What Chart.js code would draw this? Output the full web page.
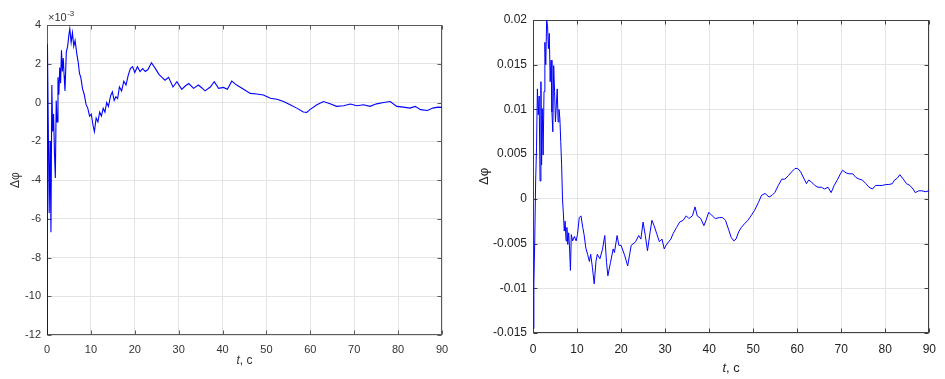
<!DOCTYPE html>
<html>
<head>
<meta charset="utf-8">
<title>Phase error vs time</title>
<script src="https://cdn.jsdelivr.net/npm/chart.js"></script>
<style>
    html, body { margin: 0; padding: 0; background: #fff; }
    body { width: 945px; height: 379px; position: relative; overflow: hidden; }
    .panel { position: absolute; top: 0; }
    #leftPanel { left: 0; }
    #rightPanel { left: 470px; }
</style>
</head>
<body>
<div class="panel" id="leftPanel"><canvas id="leftChart" width="470" height="379"></canvas></div>
<div class="panel" id="rightPanel"><canvas id="rightChart" width="475" height="379"></canvas></div>

<script>
// left panel: Δφ in units of 1e-3 (axis shows ×10^-3)
const leftT = [
    0, 0.1, 0.3, 0.5, 0.7, 0.9, 1.1, 1.3, 1.5, 1.7,
    1.9, 2.1, 2.3, 2.5, 2.7, 2.9, 3.1, 3.3, 3.5, 3.7,
    3.9, 4.1, 4.4, 4.7, 5.0, 5.2, 5.5, 5.8, 6.1, 6.4,
    6.8, 7.1, 7.4, 7.7, 8.1, 8.5, 8.9, 9.3, 9.7, 10.1,
    10.5, 10.8, 11.2, 11.6, 12.0, 12.4, 12.8, 13.2, 13.6, 14.0,
    14.5, 14.9, 15.3, 15.7, 16.1, 16.5, 17.0, 17.5, 18.0, 18.5,
    19.0, 19.5, 20.0, 20.6, 21.2, 21.8, 22.4, 23.0, 23.8, 24.7,
    25.5, 26.2, 26.9, 27.7, 28.7, 29.6, 30.7, 31.5, 32.3, 33.4,
    34.5, 35.3, 36.0, 37.2, 38.1, 39.1, 40.2, 41.1, 42.1, 43.2,
    44.8, 46.3, 47.8, 49.3, 50.9, 52.4, 53.9, 55.4, 56.9, 58.4,
    59.2, 59.9, 61.5, 63.0, 64.5, 66.0, 67.6, 69.1, 70.6, 72.1,
    73.6, 75.1, 76.7, 78.2, 79.7, 81.2, 82.7, 83.9, 85.1, 86.7,
    87.9, 89.1, 90.0
];
const leftV = [
    -12.5, 3.0, -1.5, -5.7, -2.0, -6.7, 0.9, -1.5, -0.6, -2.6,
    -3.9, 0.1, -1.0, 1.3, 0.4, 1.8, 1.0, 2.7, 1.6, 2.3,
    1.4, 0.6, 2.6, 2.9, 3.5, 3.8, 3.1, 3.6, 2.9, 3.2,
    2.5, 2.1, 1.5, 1.3, 0.7, 0.4, -0.1, -0.3, -0.7, -0.6,
    -1.2, -1.5, -0.8, -1.0, -0.5, -0.7, -0.3, -0.5, 0.0, -0.2,
    0.35, 0.55, 0.1, 0.3, 0.2, 0.8, 0.6, 1.1, 0.9, 1.4,
    1.75, 1.85, 1.55, 1.85, 1.6, 1.75, 1.6, 1.7, 2.05, 1.75,
    1.45, 1.3, 1.15, 1.3, 0.8, 1.07, 0.68, 0.85, 0.98, 0.73,
    0.9, 0.75, 0.6, 0.8, 1.07, 0.73, 0.78, 0.68, 1.1, 0.9,
    0.68, 0.47, 0.44, 0.39, 0.22, 0.17, 0.05, -0.12, -0.29, -0.49,
    -0.51, -0.37, -0.12, 0.05, -0.07, -0.2, -0.17, -0.08, -0.17, -0.12,
    -0.2, -0.07, 0.0, 0.05, -0.2, -0.24, -0.29, -0.2, -0.37, -0.41,
    -0.29, -0.24, -0.25
];

// right panel: Δφ read in thousandths, divided by 1000 when plotted
const rightT = [
    0, 0.2, 0.4, 0.6, 0.8, 1.0, 1.2, 1.4, 1.6, 1.8,
    1.95, 2.1, 2.3, 2.5, 2.7, 2.9, 3.1, 3.3, 3.5, 3.7,
    3.9, 4.1, 4.3, 4.5, 4.7, 4.9, 5.1, 5.3, 5.5, 5.7,
    5.9, 6.1, 6.3, 6.5, 6.7, 6.9, 7.1, 7.3, 7.5, 7.7,
    7.9, 8.1, 8.3, 8.5, 8.7, 9.0, 9.4, 9.8, 10.1, 10.5,
    10.9, 11.3, 11.6, 12.0, 12.4, 12.8, 13.1, 13.5, 13.9, 14.3,
    14.6, 15.2, 15.8, 16.3, 16.7, 17.0, 17.6, 18.2, 18.5, 19.1,
    19.5, 20.0, 20.8, 21.5, 22.3, 23.3, 24.0, 24.5, 25.0, 25.5,
    26.0, 26.6, 27.0, 27.5, 28.1, 28.7, 29.3, 29.8, 30.2, 30.8,
    31.3, 31.8, 32.6, 33.3, 34.1, 34.8, 35.4, 36.2, 36.8, 37.3,
    38.1, 38.8, 39.3, 39.9, 40.7, 41.4, 42.3, 43.1, 43.7, 44.4,
    45.0, 45.6, 46.1, 46.7, 47.3, 48.0, 48.8, 49.5, 50.3, 51.2,
    51.9, 52.7, 53.6, 54.3, 54.9, 55.7, 56.5, 57.2, 58.0, 58.7,
    59.5, 60.1, 60.8, 61.6, 62.1, 62.6, 63.2, 64.0, 64.7, 65.5,
    66.2, 67.0, 67.7, 68.4, 69.2, 69.8, 70.3, 71.1, 71.8, 72.6,
    73.3, 74.1, 74.8, 75.6, 76.3, 77.1, 77.8, 78.6, 79.3, 80.1,
    80.8, 81.6, 82.1, 82.7, 83.3, 84.1, 84.8, 85.6, 86.3, 86.8,
    87.6, 88.3, 89.1, 90.0
];
const rightV = [
    -14.5, -9.5, -4.5, 2.0, 5.7, 12.3, 9.4, 11.5, 2.0, 13.1,
    3.8, 10.1, 4.9, 12.0, 17.5, 15.0, 20.0, 19.4, 16.8, 18.5,
    13.1, 15.5, 9.7, 7.5, 14.9, 12.0, 8.6, 10.5, 12.3, 8.6,
    10.0, 9.0, 6.4, 3.8, 0.0, -1.7, -3.6, -2.5, -4.7, -3.2,
    -5.1, -3.8, -5.5, -8.0, -4.0, -4.7, -4.2, -4.7, -4.0, -2.1,
    -1.9, -3.2, -4.0, -5.5, -6.2, -7.0, -6.2, -7.7, -9.5, -7.0,
    -6.2, -6.7, -5.6, -4.1, -7.1, -8.6, -7.1, -5.6, -6.0, -4.1,
    -5.2, -5.2, -6.3, -7.5, -5.2, -4.8, -4.1, -4.5, -2.6, -4.1,
    -5.8, -3.7, -2.4, -3.0, -3.9, -4.8, -4.5, -5.6, -5.2, -4.8,
    -4.5, -3.9, -3.2, -2.6, -2.4, -1.9, -2.2, -1.9, -0.9, -1.9,
    -2.2, -3.0, -2.4, -1.5, -1.9, -2.2, -2.1, -2.1, -2.4, -3.4,
    -4.3, -4.7, -4.5, -3.7, -3.2, -2.8, -2.4, -1.9, -1.3, -0.4,
    0.4, 0.6, 0.2, 0.4, 0.7, 1.5, 2.2, 2.2, 2.6, 3.0,
    3.4, 3.4, 3.0, 2.2, 1.7, 2.1, 1.9, 1.5, 1.3, 1.3,
    1.1, 1.3, 0.7, 1.5, 2.2, 2.8, 3.2, 2.9, 2.8, 2.8,
    2.4, 2.2, 2.1, 1.7, 1.3, 1.1, 1.5, 1.5, 1.5, 1.6,
    1.6, 1.7, 2.1, 2.3, 2.7, 2.2, 1.7, 1.5, 1.1, 0.7,
    0.9, 0.9, 0.8, 0.9
];

const FONT = '"Liberation Sans", Arial, sans-serif';

// MATLAB-ish box with inward ticks, x label with italic t, optional exponent
const matlabAxes = {
    id: 'matlabAxes',
    beforeDatasetsDraw(chart, args, o) {
        const { ctx, chartArea: a, scales } = chart;
        ctx.save();
        ctx.strokeStyle = o.color;
        ctx.lineWidth = 1;
        const l = Math.round(a.left) + 0.5, r = Math.round(a.right) - 0.5;
        const t = Math.round(a.top) + 0.5, b = Math.round(a.bottom) - 0.5;
        ctx.strokeRect(l, t, r - l, b - t);
        ctx.beginPath();
        scales.x.ticks.forEach(tk => {
            const x = Math.round(scales.x.getPixelForValue(tk.value)) + 0.5;
            ctx.moveTo(x, b); ctx.lineTo(x, b - 4);
            ctx.moveTo(x, t); ctx.lineTo(x, t + 4);
        });
        scales.y.ticks.forEach(tk => {
            const y = Math.round(scales.y.getPixelForValue(tk.value)) + 0.5;
            ctx.moveTo(l, y); ctx.lineTo(l + 4, y);
            ctx.moveTo(r, y); ctx.lineTo(r - 4, y);
        });
        ctx.stroke();
        ctx.restore();
    },
    afterDraw(chart, args, o) {
        const { ctx, chartArea: a } = chart;
        ctx.save();
        ctx.fillStyle = o.textColor;
        ctx.textBaseline = 'middle';
        ctx.textAlign = 'left';
        const ital = 'italic ' + o.titleSize + 'px ' + FONT;
        const reg = o.titleSize + 'px ' + FONT;
        ctx.font = ital;
        const w1 = ctx.measureText('t').width;
        ctx.font = reg;
        const w2 = ctx.measureText(', c').width;
        const x0 = (a.left + a.right) / 2 - (w1 + w2) / 2;
        ctx.font = ital;
        ctx.fillText('t', x0, o.titleY);
        ctx.font = reg;
        ctx.fillText(', c', x0 + w1, o.titleY);
        if (o.exponent) {
            ctx.textBaseline = 'alphabetic';
            ctx.font = '11px ' + FONT;
            const ex = a.left + 1, ey = a.top - 4;
            ctx.fillText('×10', ex, ey);
            const w = ctx.measureText('×10').width;
            ctx.font = '8px ' + FONT;
            ctx.fillText(o.exponent, ex + w + 0.5, ey - 5);
        }
        ctx.restore();
    }
};

function makeChart(id, t, v, cfg) {
    const points = t.map((x, i) => ({ x: x, y: v[i] * cfg.factor }));
    return new Chart(document.getElementById(id), {
        type: 'line',
        data: {
            datasets: [{
                data: points,
                borderColor: '#0000ff',
                borderWidth: cfg.lineWidth,
                pointRadius: 0,
                tension: 0,
                fill: false
            }]
        },
        options: {
            responsive: false,
            animation: false,
            events: [],
            layout: { padding: cfg.padding },
            plugins: {
                legend: { display: false },
                tooltip: { enabled: false },
                matlabAxes: {
                    color: cfg.boxColor,
                    textColor: cfg.textColor,
                    titleSize: cfg.titleSize,
                    titleY: cfg.xTitleY,
                    exponent: cfg.exponent
                }
            },
            scales: {
                x: {
                    type: 'linear',
                    min: 0,
                    max: 90,
                    ticks: {
                        stepSize: 10,
                        color: cfg.textColor,
                        padding: cfg.xTickPad,
                        maxRotation: 0,
                        font: { size: cfg.tickSize, family: FONT }
                    },
                    grid: { color: '#e4e4e4', drawTicks: false },
                    border: { display: false },
                    afterFit(s) { s.height = cfg.xHeight; }
                },
                y: {
                    min: cfg.yMin,
                    max: cfg.yMax,
                    ticks: {
                        stepSize: cfg.yStep,
                        color: cfg.textColor,
                        padding: 6,
                        font: { size: cfg.tickSize, family: FONT },
                        callback: val => String(Number(val.toFixed(4)))
                    },
                    grid: { color: '#e4e4e4', drawTicks: false },
                    border: { display: false },
                    title: {
                        display: true,
                        text: 'Δφ',
                        color: cfg.textColor,
                        font: { size: cfg.titleSize, family: FONT },
                        padding: { top: cfg.yTitlePad, bottom: 0 }
                    },
                    afterFit(s) { s.width = cfg.yWidth; }
                }
            }
        },
        plugins: [matlabAxes]
    });
}

makeChart('leftChart', leftT, leftV, {
    factor: 1,
    lineWidth: 1.1,
    padding: { left: 0, right: 28, top: 25, bottom: 0 },
    yWidth: 47,
    xHeight: 44,
    yMin: -12, yMax: 4, yStep: 2,
    tickSize: 11,
    titleSize: 12,
    xTickPad: 8,
    yTitlePad: 8,
    xTitleY: 361,
    textColor: '#333333',
    boxColor: '#5a5a5a',
    exponent: '-3'
});

makeChart('rightChart', rightT, rightV, {
    factor: 0.001,
    lineWidth: 1,
    padding: { left: 0, right: 13, top: 20, bottom: 0 },
    yWidth: 63,
    xHeight: 46,
    yMin: -0.015, yMax: 0.02, yStep: 0.005,
    tickSize: 12,
    titleSize: 13,
    xTickPad: 9,
    yTitlePad: 7,
    xTitleY: 368,
    textColor: '#222222',
    boxColor: '#404040',
    exponent: null
});
</script>
</body>
</html>
